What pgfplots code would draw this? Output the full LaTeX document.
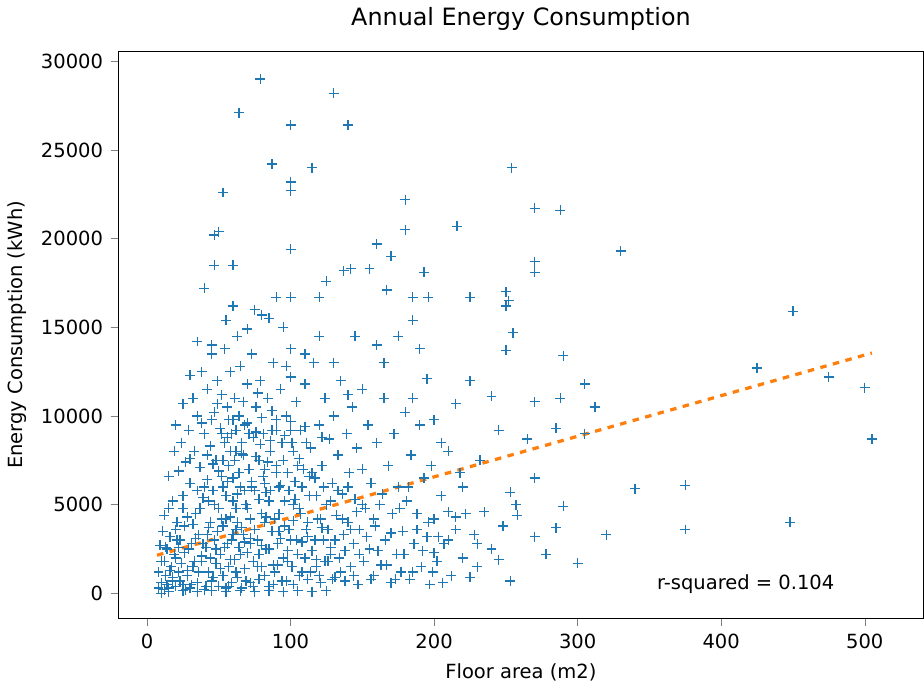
\documentclass[border=0pt]{standalone}
\usepackage{pgfplots}
\pgfplotsset{compat=1.18}
\usepackage{fontspec}
\setmainfont{DejaVu Sans}
\definecolor{mblue}{HTML}{1F77B4}
\definecolor{morange}{HTML}{FF7F0E}
\begin{document}
\begin{tikzpicture}
\begin{axis}[
 scale only axis, width=371.5pt, height=262pt,
 xmin=-20, xmax=541, ymin=-1440, ymax=30580,
 xtick={0,100,200,300,400,500}, ytick={0,5000,10000,15000,20000,25000,30000},
 scaled y ticks=false,
 /pgf/number format/assume math mode=true,
 /pgf/number format/1000 sep={},
 tick label style={font=\fontsize{9}{11}\selectfont},
 label style={font=\fontsize{9}{11}\selectfont},
 title style={font=\fontsize{11}{13}\selectfont},
 title={Annual Energy Consumption},
 xlabel={Floor area (m2)}, ylabel={Energy Consumption (kWh)},
 tick align=outside, xtick pos=bottom, ytick pos=left,
 major tick length=3.5pt,
]
\addplot[only marks, mark=+, mark size=2.3pt, mblue, line width=0.6pt] coordinates {
(79,29000)(130,28200)(64,27100)(100,26400)(140,26400)(87,24200)(115,24000)(254,24000)(100,23200)(100,22700)(53,22600)(180,22200)(270,21700)(288,21600)(216,20700)(50,20400)(47,20200)(180,20500)(100,19400)(330,19300)(160,19700)(170,19000)(270,18700)(47,18500)(60,18500)(137,18200)(142,18300)(155,18300)(193,18100)(270,18100)(40,17200)(125,17600)(167,17100)(225,16700)(185,16700)(196,16700)(120,16700)(100,16700)(90,16700)(250,17000)(252,16500)(250,16200)(450,15900)(60,16200)(75,16000)(80,15700)(255,14700)(145,14500)(160,14000)(250,13700)(290,13400)(425,12700)(475,12200)(500,11600)(305,11800)(312,10500)(270,10800)(240,11100)(288,11000)(505,8700)(305,9000)(285,9300)(265,8700)(340,5900)(375,6100)(270,6500)(253,5700)(257,5000)(290,4900)(258,4400)(448,4000)(375,3600)(320,3300)(285,3700)(270,3200)(278,2200)(300,1700)(253,700)(245,1900)(230,2800)(230,1500)(210,3000)(200,2300)(215,4300)(220,6000)(225,12000)(215,10700)(205,8500)(200,9800)(195,12100)(185,11000)(190,13800)(185,15400)(175,14500)(165,13000)(150,11500)(140,11200)(130,13000)(120,14500)(110,13500)(100,13800)(95,15000)(85,15500)(70,14900)(55,15400)(45,14000)(35,14200)(30,12300)(25,10700)(20,9500)
(8,300)(8,1200)(9,2700)(10,600)(10,1800)(11,3500)(12,200)(12,4400)(13,1000)(14,2500)(15,6600)(15,300)(16,3200)(17,1500)(18,5200)(18,700)(19,8000)(20,2000)(20,400)(21,4000)(22,6900)(22,1200)(23,3000)(24,8500)(25,500)(25,5500)(26,2300)(27,7400)(28,1000)(28,4300)(29,9200)(30,300)(30,6200)(31,2800)(32,11000)(32,1500)(33,8000)(34,4500)(35,600)(35,10000)(36,3300)(37,7100)(38,1800)(38,12500)(39,5400)(40,200)(40,9000)(41,2600)(42,6400)(42,11500)(43,1200)(44,4000)(44,8300)(45,13500)(45,700)(46,5800)(47,3000)(47,10200)(48,1700)(48,7500)(49,12000)(50,400)(50,4800)(51,9300)(51,2200)(52,6600)(52,11200)(53,1000)(53,3800)(54,8500)(54,13800)(55,300)(55,5500)(56,2800)(56,10500)(57,7200)(57,1500)(58,4300)(58,12500)(59,9000)(59,600)(60,3300)(60,6500)(61,11000)(61,1900)(62,8000)(62,4800)(63,14500)(63,900)(64,2600)(64,10000)(65,6000)(65,12800)(66,3700)(66,300)(67,7800)(68,1400)(68,9500)(69,5000)(70,11800)(70,2300)(71,7000)(72,600)(72,4200)(73,13500)(74,8800)(74,1800)(75,5800)(76,10500)(77,3000)(78,800)(78,7500)(79,12000)(80,4500)(80,1500)(81,9000)(82,6200)(83,2500)(84,11000)(85,400)(85,5200)(86,8000)(87,3500)(88,13000)(89,1200)(90,6800)(90,9800)(91,2800)(92,4500)(93,11500)(94,700)(95,7500)(96,3800)(97,10000)(98,1800)(99,5800)(100,12200)(100,3000)(101,8500)(102,500)(103,6300)(104,10800)(105,2200)(106,4800)(107,9200)(108,1200)(109,7000)(110,11800)(111,3600)(112,800)(113,5500)(114,8200)(115,2400)(116,13000)(117,6500)(118,1500)(119,4200)(120,9500)(121,600)(122,7200)(123,3000)(124,11000)(125,5000)(126,1800)(127,8700)(128,2600)(129,6200)(130,10000)(131,900)(132,4400)(133,7800)(134,2000)(135,12000)(136,5600)(137,3300)(138,700)(139,9000)(140,4000)(141,6800)(142,1500)(143,10500)(144,2800)(145,5300)(146,8200)(147,500)(148,3600)(150,7000)(151,1800)(152,4800)(154,9500)(155,2500)(156,6200)(158,1000)(159,3800)(160,8500)(162,5000)(163,1600)(165,11000)(166,3000)(168,7200)(170,600)(171,4500)(172,9000)(174,2200)(175,6000)(177,1200)(178,3500)(180,10200)(181,5200)(183,800)(184,7800)(186,2800)(188,4500)(190,9500)(191,1500)(193,6500)(195,3200)(197,500)(198,7200)(200,4200)(202,1800)(205,5500)(207,2800)(210,8000)(212,1000)(215,3600)(218,6800)(220,2000)(222,4500)(225,900)(228,3300)(232,7500)(235,4600)(240,2500)(245,9200)(248,3800)
(15,100)(25,150)(35,100)(45,150)(55,100)(65,150)(75,100)(85,150)(95,100)(105,150)(115,100)(125,150)(18,900)(28,1300)(38,2100)(48,2500)(58,1900)(68,2900)(78,2200)(88,1600)(98,2400)(108,2900)(118,1900)(128,2200)(12,1800)(22,2600)(32,3900)(42,3300)(52,4200)(62,3600)(72,3100)(82,4000)(92,3500)(102,4100)(112,3200)(122,3700)(43,5200)(53,6000)(63,5600)(73,6300)(83,5700)(93,6100)(103,5300)(113,6600)(46,7300)(56,8800)(66,7900)(76,9100)(86,8600)(96,8900)(106,7600)(67,10800)(57,9800)(77,11300)(49,10700)(87,10300)(97,12800)
(10,0)(14,500)(16,1300)(19,2200)(21,3000)(23,700)(24,1700)(26,3800)(27,200)(29,2500)(31,500)(33,1800)(34,3100)(36,1200)(37,4800)(39,2800)(40,6000)(41,400)(43,3700)(44,2000)(46,900)(47,5000)(49,3500)(50,6900)(51,1400)(53,7500)(54,2600)(55,4200)(56,6300)(57,400)(58,8000)(59,3000)(60,5200)(61,7500)(62,1200)(63,4000)(64,6800)(65,2200)(66,8500)(67,3300)(68,5800)(69,700)(70,4800)(71,9000)(72,2800)(73,6000)(74,400)(75,3600)(76,7700)(77,1500)(78,5300)(79,8400)(80,2700)(81,6600)(82,1000)(83,4300)(84,7400)(85,2500)(86,5800)(87,9200)(88,500)(89,4200)(90,7200)(91,1600)(92,6000)(93,3100)(94,8500)(95,2000)(96,5200)(97,700)(98,6800)(99,3600)(100,9200)(101,1500)(102,5000)(104,3000)(105,7200)(106,1000)(107,4500)(108,6000)(110,2000)(111,8500)(112,4000)(114,1200)(115,6800)(117,3000)(118,5500)(120,1000)(121,4200)(123,6000)(124,1800)(126,3600)(128,5200)(129,800)(131,3000)(133,5800)(135,1200)(136,4200)(138,2400)(140,6000)(142,3600)(144,1000)(146,4600)(148,2200)(150,5000)(153,3200)(156,800)(158,4200)(161,2400)(164,5600)(167,1600)(170,3400)(173,800)(176,4800)(179,2200)(182,6000)(185,1200)(188,3600)(192,2400)(196,4000)(199,1200)(203,3200)(206,600)(210,4600)
(30,7600)(38,9600)(45,9800)(52,9000)(60,9800)(70,9600)(80,9900)(90,9200)(100,9700)(110,9400)(42,7800)(62,9200)(82,7000)(102,8000)(122,8800)(35,5800)(25,4800)(20,3600)(15,4800)(13,2600)
};
\addplot[morange, dashed, line width=1.5pt] coordinates {(7,2150)(505,13550)};
\node[anchor=west, font=\fontsize{9}{11}\selectfont] at (axis cs:350,500) {r-squared = 0.104};
\end{axis}
\end{tikzpicture}
\end{document}
